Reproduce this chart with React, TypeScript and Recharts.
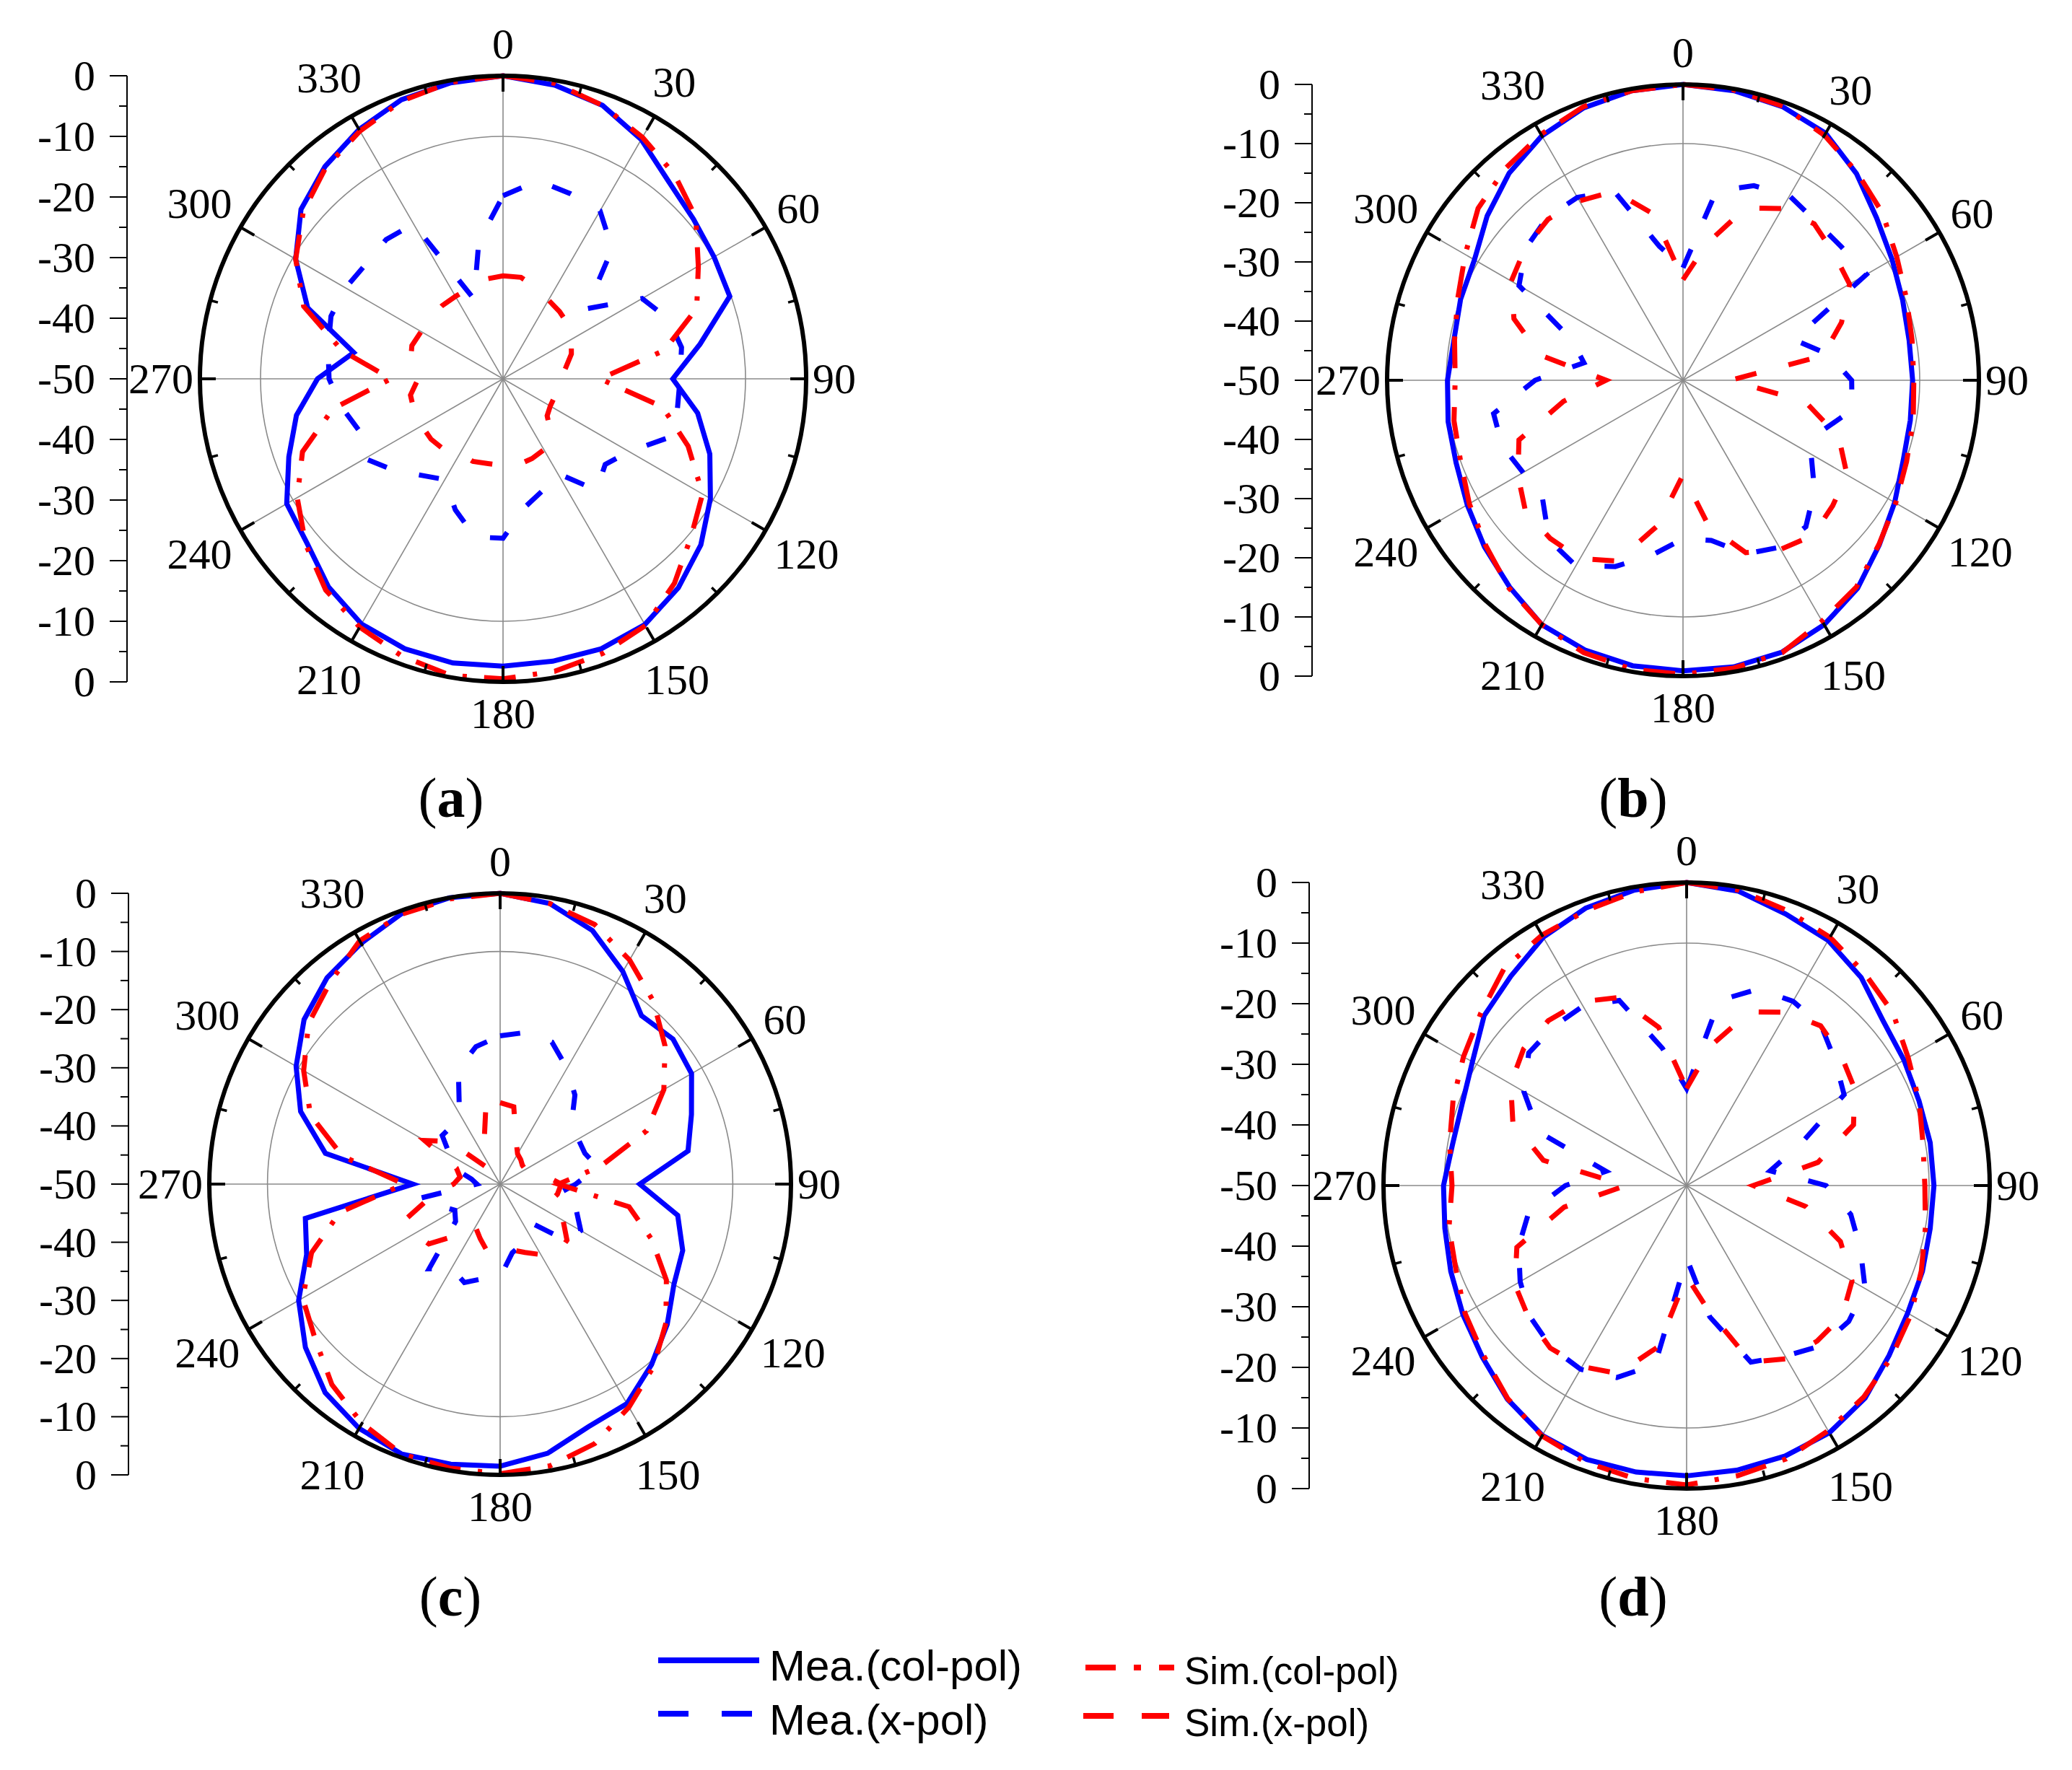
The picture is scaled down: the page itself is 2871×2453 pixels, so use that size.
import React from 'react';
import { RadarChart, Radar, PolarGrid, PolarAngleAxis, PolarRadiusAxis, LineChart, XAxis, YAxis } from 'recharts';

// angle categories (degrees, clockwise from top) and axis ticks
const angles = [0, 10, 20, 30, 40, 50, 60, 70, 80, 90, 100, 110, 120, 130, 140, 150, 160, 170, 180, 190, 200, 210, 220, 230, 240, 250, 260, 270, 280, 290, 300, 310, 320, 330, 340, 350];
const labelAngles = [0, 30, 60, 90, 120, 150, 180, 210, 240, 270, 300, 330];
// mirrored dB scale drawn at the left of every polar plot (0 at top, -50 centre, 0 at bottom)
const radialTicks = [50, 45, 40, 35, 30, 25, 20, 15, 10, 5, 0, -5, -10, -15, -20, -25, -30, -35, -40, -45, -50];
const radiusDomain = [-50, 0];
const gridLevel = -10;

// (a)
const aMeaCo = [0, -0.8, -2, -4.4, -7.5, -9, -9.8, -10.2, -17, -22, -17.4, -13.7, -10.5, -7.4, -5, -3.2, -2.6, -2.7, -2.6, -2.4, -2.6, -3.3, -5.2, -7.8, -8.8, -12.4, -15.4, -19.4, -25, -15.7, -10.5, -6.5, -4.3, -2.5, -1, -0.4];
const aMeaX = [-19.8, -16.8, -17.5, -18, -22, -32, -23.5, -21, -20.1, -20.8, -20.8, -21.3, -26, -28, -26, -32, -30.5, -28.6, -23.7, -23.5, -27, -30.8, -29.2, -26.5, -23.7, -24.8, -23, -21.3, -20.7, -19.8, -20, -20.5, -20, -20.5, -36, -27];
const aSimCo = [0, -0.5, -2, -4, -6, -8.5, -12.8, -16, -23, -34, -23.3, -17.5, -12, -9.5, -6, -3, -1.8, -1, -0.5, -0.3, -1.3, -2.7, -4.5, -7.5, -10.8, -14.8, -21.5, -31.5, -23, -15, -10.5, -7, -4.5, -2.8, -1.2, -0.3];
const aSimX = [-33, -33, -34, -35, -35.5, -36, -37, -38, -39.5, -40.5, -41, -41, -41, -40.5, -37.5, -36.5, -36, -35.6, -35.7, -35.8, -35.5, -35.8, -34.8, -34.5, -34.5, -34.4, -34.5, -36, -34.5, -34, -34.4, -34.3, -34.3, -34.3, -34, -33.3];

// (b)
const bMeaCo = [0, -0.3, -0.8, -1.8, -4.4, -7.3, -9.2, -10.5, -11.2, -11.2, -11, -10.4, -8.7, -6.7, -4.1, -2.3, -1.1, -0.8, -0.9, -1, -1.5, -2.3, -4.4, -6.2, -7.9, -9.2, -9.7, -10.2, -10.7, -10, -9.3, -6.8, -4.3, -2.3, -1, -0.3];
const bMeaX = [-31, -17.5, -15, -14, -15, -15, -14.2, -30, -25, -21.5, -21, -25, -25, -21, -17.7, -17.4, -18.8, -22.5, -23.2, -20, -16.5, -13.8, -14.8, -19, -18.8, -17.5, -17.5, -25, -33, -30, -18, -15.3, -14.2, -14.3, -16, -27];
const bSimCo = [0, -0.2, -0.7, -2.2, -4.2, -6, -8.3, -9.8, -10.7, -11, -10.5, -9.8, -8.5, -6.8, -4.4, -3, -1, -0.6, -0.3, -0.4, -1, -2.3, -4.2, -6.5, -8.3, -10, -10.7, -11.5, -10.8, -9.5, -7.5, -4.8, -3.3, -2, -0.8, -0.3];
const bSimX = [-33, -26.5, -19, -16.5, -15.5, -16.7, -17.5, -21.5, -26, -42, -29, -22, -18, -17, -15.8, -17, -19, -25, -34, -25, -17.5, -15.2, -15.1, -15.3, -17.8, -20.5, -29.5, -37, -25.5, -19.6, -16.5, -15.2, -14.5, -15, -16, -21.5];

// (c)
const cMeaCo = [0, -1, -3.6, -7.8, -12.2, -11.2, -12, -15, -17.2, -26, -19, -16.6, -15.5, -12.5, -9.5, -6.4, -5.6, -3, -1.5, -1.1, -0.6, -1.5, -3.2, -6.3, -10, -14.6, -16, -35, -19.5, -13.5, -9.5, -6, -3.7, -2.2, -0.5, 0];
const cMeaX = [-24.5, -23.5, -24, -27, -30, -34, -34.5, -34.5, -33, -37, -40, -36, -34, -34.5, -41, -40, -39, -38, -34, -33.5, -32, -33.3, -31, -40, -41, -39, -36, -46, -45, -41, -40, -37, -37, -36, -29, -26];
const cSimCo = [0, -1, -2.5, -5.5, -9, -13, -17.5, -23.2, -32.5, -40, -27.5, -22.3, -17, -12.8, -9, -5.7, -2.5, -0.8, -0.2, -0.4, -0.6, -2.5, -5, -8.5, -10.8, -15.5, -22, -33.5, -22.5, -15.3, -11, -7, -4.6, -1.7, -0.6, -0.2];
const cSimX = [-36, -36.5, -42, -44, -44.5, -45, -45, -44, -42, -39.5, -40, -41, -37.5, -35, -34.5, -36, -37.5, -38.5, -38.5, -38, -40, -41.5, -38.5, -34, -33, -33, -38, -42, -43, -42, -35, -38.6, -46, -44, -42, -36];

// (d)
const dMeaCo = [0, -0.7, -2.3, -3.3, -5.2, -7.7, -8.6, -9.2, -9.2, -9.2, -9.2, -8.6, -7.9, -6.4, -4.2, -2.9, -2.5, -2.3, -2.1, -2, -1.9, -2.4, -4, -6, -7.4, -8.6, -9.5, -9.9, -10.8, -10.6, -9.2, -6.4, -4.9, -2.7, -1.3, -0.5];
const dMeaX = [-34, -19, -15.5, -14.9, -15.5, -18, -20, -30, -36, -27, -22.5, -19.5, -16, -15.1, -15.5, -17.5, -19, -28, -38, -20, -16.3, -15, -15.2, -16.3, -18.3, -20.5, -23.5, -30, -36.5, -24, -19, -16, -15.8, -15.8, -17.5, -27];
const dSimCo = [0, -0.5, -1.7, -2.7, -4.3, -5.6, -7.8, -9.2, -10.4, -10.7, -10, -8.8, -7.3, -5.9, -4.5, -3.3, -2, -1.4, -0.6, -0.9, -1.4, -2.3, -4.1, -6.3, -7.8, -9.5, -10.2, -11.3, -10.3, -9, -7.5, -5.7, -3.2, -2.3, -1.7, -0.8];
const dSimX = [-34, -26.5, -19.5, -17, -15.6, -16.7, -18, -20.7, -28, -39, -30, -23, -18.5, -16.5, -16.5, -17, -19, -29, -35, -23, -17, -15.5, -15, -16, -17.3, -20.2, -29.5, -40, -26, -19.5, -16.5, -14.9, -14.5, -15, -17, -23.5];

const seriesKeys = ['meaCo', 'meaX', 'simCo', 'simX'];
const seriesNames = ['Mea.(col-pol)', 'Mea.(x-pol)', 'Sim.(col-pol)', 'Sim.(x-pol)'];
const seriesColors = ['#0000ff', '#0000ff', '#ff0000', '#ff0000'];
const seriesDash = [undefined, '28 46', '44 24 6 24', '30 46'];

const SERIF = '"Liberation Serif", "Times New Roman", serif';
const SANS = '"Liberation Sans", Arial, sans-serif';

const panels = [
  { id: 'a', cx: 697, cy: 525, r: 420, axisX: 176, labelX: 625, labelY: 1105, values: [aMeaCo, aMeaX, aSimCo, aSimX] },
  { id: 'b', cx: 2332, cy: 527, r: 410, axisX: 1818, labelX: 2263, labelY: 1105, values: [bMeaCo, bMeaX, bSimCo, bSimX] },
  { id: 'c', cx: 693, cy: 1641, r: 403, axisX: 178, labelX: 624, labelY: 2212, values: [cMeaCo, cMeaX, cSimCo, cSimX] },
  { id: 'd', cx: 2337, cy: 1643, r: 420, axisX: 1814, labelX: 2263, labelY: 2212, values: [dMeaCo, dMeaX, dSimCo, dSimX] },
];

const legendItems = [
  { x1: 912, x2: 1052, y: 2301, tx: 1066, ty: 2308, size: 60, dash: undefined },
  { x1: 912, x2: 1042, y: 2375, tx: 1066, ty: 2383, size: 60, dash: '42 46' },
  { x1: 1504, x2: 1627, y: 2311, tx: 1641, ty: 2315, size: 53, dash: '42 25 10 25' },
  { x1: 1501, x2: 1620, y: 2378, tx: 1641, ty: 2387, size: 53, dash: '42 39' },
];

function PolarPanel({ p }: any) {
  const pad = 140;
  const C = p.r + pad;
  const size = 2 * C;
  const data = angles.map((a, i) => ({
    angle: a,
    meaCo: p.values[0][i],
    meaX: p.values[1][i],
    simCo: p.values[2][i],
    simX: p.values[3][i],
  }));
  const gridR = ((gridLevel - radiusDomain[0]) / (radiusDomain[1] - radiusDomain[0])) * p.r;

  const tickLine = (deg: number, len: number, w: number) => {
    const t = (deg * Math.PI) / 180;
    const s = Math.sin(t);
    const c = Math.cos(t);
    return (
      <line key={deg} x1={C + p.r * s} y1={C - p.r * c} x2={C + (p.r - len) * s} y2={C - (p.r - len) * c} stroke="#000" strokeWidth={w} />
    );
  };

  const renderTick = (props: any) => {
    const d = Number(props.payload.value);
    if (d % 30 !== 0) return <g />;
    const t = (d * Math.PI) / 180;
    const s = Math.sin(t);
    const c = Math.cos(t);
    const txt = String(d);
    const w = txt.length * 30;
    const h = 42;
    const dist = p.r + 3 + 6 + 14 * Math.abs(c) + (w / 2) * Math.abs(s) + (h / 2) * Math.abs(c);
    return (
      <g>
        {tickLine(d, 22, 4)}
        {tickLine(d + 15, 11, 3.5)}
        <text x={C + dist * s} y={C - dist * c} textAnchor="middle" dominantBaseline="central" fontSize={60} fontFamily={SERIF} fill="#000">
          {txt}
        </text>
      </g>
    );
  };

  return (
    <div style={{ position: 'absolute', left: p.cx - C, top: p.cy - C, width: size, height: size }}>
      <RadarChart width={size} height={size} cx={C} cy={C} outerRadius={p.r} data={data} startAngle={90} endAngle={-270} margin={{ top: 0, right: 0, bottom: 0, left: 0 }}>
        <PolarGrid gridType="circle" polarAngles={labelAngles.map((a) => 90 - a)} polarRadius={[gridR]} stroke="#8a8a8a" strokeWidth={1.6} />
        <PolarAngleAxis dataKey="angle" tick={renderTick} tickLine={false} axisLineType="circle" axisLine={{ stroke: '#000', strokeWidth: 6 }} />
        <PolarRadiusAxis domain={radiusDomain} tick={false} axisLine={false} />
        {seriesKeys.map((k, i) => (
          <Radar
            key={k}
            name={seriesNames[i]}
            dataKey={k}
            stroke={seriesColors[i]}
            strokeWidth={7}
            strokeDasharray={seriesDash[i]}
            fill="none"
            fillOpacity={0}
            dot={false}
            isAnimationActive={false}
          />
        ))}
      </RadarChart>
    </div>
  );
}

const renderScaleTick = (props: any) => {
  const { x, y, payload } = props;
  const v = Number(payload.value);
  const major = v % 10 === 0;
  const len = major ? 24 : 11;
  const label = Math.abs(v) - 50;
  return (
    <g>
      <line x1={x} y1={y} x2={x - len} y2={y} stroke="#000" strokeWidth={2} />
      {major && (
        <text x={x - 44} y={y} textAnchor="end" dominantBaseline="central" fontSize={60} fontFamily={SERIF} fill="#000">
          {label === 0 ? '0' : String(label)}
        </text>
      )}
    </g>
  );
};

function RadialScale({ p }: any) {
  const W = 172;
  const m = 50;
  return (
    <div style={{ position: 'absolute', left: p.axisX - W, top: p.cy - p.r - m }}>
      <LineChart width={W + 10} height={2 * p.r + 2 * m} data={radialTicks.map((v) => ({ v }))} margin={{ top: m, right: 10, bottom: m, left: 0 }}>
        <XAxis dataKey="v" hide />
        <YAxis
          type="number"
          domain={[-50, 50]}
          ticks={radialTicks}
          interval={0}
          width={W}
          tickSize={0}
          tickMargin={0}
          tickLine={false}
          allowDataOverflow
          axisLine={{ stroke: '#000', strokeWidth: 2 }}
          tick={renderScaleTick}
        />
      </LineChart>
    </div>
  );
}

export default function App() {
  return (
    <div style={{ position: 'absolute', left: 0, top: 0, width: 2871, height: 2453, background: '#fff', overflow: 'hidden' }}>
      {panels.map((p) => (
        <React.Fragment key={p.id}>
          <RadialScale p={p} />
          <PolarPanel p={p} />
        </React.Fragment>
      ))}
      <svg width={2871} height={2453} style={{ position: 'absolute', left: 0, top: 0, pointerEvents: 'none' }}>
        {panels.map((p) => (
          <text key={p.id} x={p.labelX} y={p.labelY} textAnchor="middle" dominantBaseline="central" fontSize={78} fontFamily={SERIF} fill="#000">
            (<tspan fontWeight="bold">{p.id}</tspan>)
          </text>
        ))}
        {legendItems.map((it, i) => (
          <g key={i}>
            <line x1={it.x1} y1={it.y} x2={it.x2} y2={it.y} stroke={seriesColors[i]} strokeWidth={8} strokeDasharray={it.dash} />
            <text x={it.tx} y={it.ty} dominantBaseline="central" fontSize={it.size} fontFamily={SANS} fill="#000">
              {seriesNames[i]}
            </text>
          </g>
        ))}
      </svg>
    </div>
  );
}
